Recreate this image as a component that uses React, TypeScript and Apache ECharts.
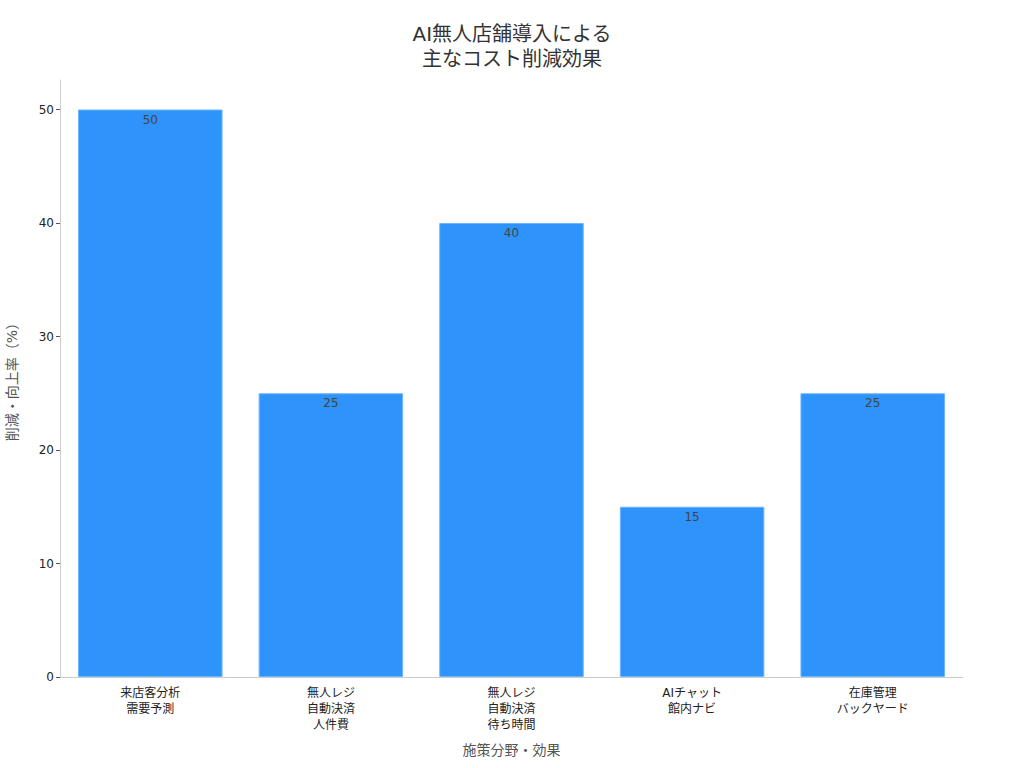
import React, { useEffect, useRef } from "react";
import * as echarts from "echarts";

const categories = [
  "来店客分析\n需要予測",
  "無人レジ\n自動決済\n人件費",
  "無人レジ\n自動決済\n待ち時間",
  "AIチャット\n館内ナビ",
  "在庫管理\nバックヤード",
];
const values = [50, 25, 40, 15, 25];
const yTicks = [0, 10, 20, 30, 40, 50];

const FONT = "'DejaVu Sans', 'Noto Sans CJK JP', sans-serif";

export default function App() {
  const ref = useRef<HTMLDivElement>(null);
  useEffect(() => {
    const chart = echarts.init(ref.current!, null, { renderer: "svg" });
    chart.setOption({
      animation: false,
      textStyle: { fontFamily: FONT },
      title: {
        text: "AI無人店舗導入による\n主なコスト削減効果",
        left: "center",
        top: 16,
        textStyle: {
          fontFamily: FONT,
          fontSize: 20,
          fontWeight: "normal",
          color: "#333",
          lineHeight: 25,
        },
      },
      grid: {
        left: 60,
        right: 61,
        top: 80,
        bottom: 91,
        containLabel: false,
        outerBoundsMode: "none",
      },
      xAxis: {
        type: "category",
        data: categories,
        name: "施策分野・効果",
        nameLocation: "middle",
        nameGap: 66,
        nameTextStyle: { fontSize: 14, color: "#555", fontFamily: FONT },
        axisLine: { lineStyle: { color: "#ccc" } },
        axisTick: { alignWithLabel: true, length: 5, lineStyle: { color: "#555" } },
        axisLabel: { fontSize: 12, color: "#222", lineHeight: 16, margin: 8, fontFamily: FONT },
      },
      yAxis: {
        type: "value",
        min: 0,
        max: 52.6,
        interval: 10,
        name: "削減・向上率（%）",
        nameLocation: "middle",
        nameGap: 41,
        nameTextStyle: { fontSize: 14, color: "#555", fontFamily: FONT },
        axisLine: { show: true, lineStyle: { color: "#ccc" } },
        axisTick: { show: true, length: 4, lineStyle: { color: "#555" } },
        splitLine: { show: false },
        axisLabel: {
          fontSize: 12,
          color: "#222",
          margin: 6,
          fontFamily: FONT,
          showMaxLabel: false,
          formatter: (v: number) => (yTicks.includes(v) ? String(v) : ""),
        },
      },
      series: [
        {
          type: "bar",
          data: values,
          barWidth: "80%",
          itemStyle: { color: "#2E93FA", borderColor: "#6BB4FF", borderWidth: 1 },
          label: {
            show: true,
            position: "insideTop",
            distance: 4,
            color: "#444",
            fontSize: 12,
            fontFamily: FONT,
          },
        },
      ],
    });
    return () => chart.dispose();
  }, []);
  return (
    <div
      ref={ref}
      style={{ position: "fixed", left: 0, top: 0, width: 1024, height: 768, background: "#fff" }}
    />
  );
}
